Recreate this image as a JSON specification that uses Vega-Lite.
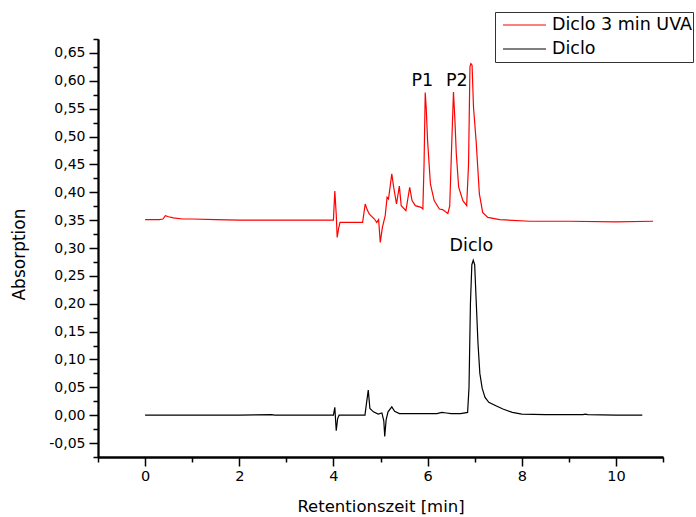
{
  "$schema": "https://vega.github.io/schema/vega-lite/v6.json",
  "width": 565,
  "height": 418,
  "autosize": {"type": "none"},
  "padding": {"left": 98, "top": 39, "right": 33, "bottom": 60},
  "background": "white",
  "config": {
    "view": {"stroke": null},
    "font": "DejaVu Sans",
    "axis": {
      "grid": false,
      "domainColor": "black",
      "domainWidth": 1.8,
      "tickColor": "black",
      "tickWidth": 1.5,
      "labelColor": "black",
      "titleColor": "black",
      "titleFontWeight": "normal",
      "labelFont": "DejaVu Sans",
      "titleFont": "DejaVu Sans",
      "labelOverlap": false,
      "labelFlush": false,
      "labelBound": false
    }
  },
  "resolve": {"axis": {"x": "independent", "y": "independent"}},
  "datasets": {
    "curves": [
      {"t": 0, "a": 0.351, "s": "Diclo 3 min UVA"},
      {"t": 0.3, "a": 0.351, "s": "Diclo 3 min UVA"},
      {"t": 0.38, "a": 0.352, "s": "Diclo 3 min UVA"},
      {"t": 0.43, "a": 0.358, "s": "Diclo 3 min UVA"},
      {"t": 0.5, "a": 0.356, "s": "Diclo 3 min UVA"},
      {"t": 0.6, "a": 0.354, "s": "Diclo 3 min UVA"},
      {"t": 0.8, "a": 0.352, "s": "Diclo 3 min UVA"},
      {"t": 1.0, "a": 0.352, "s": "Diclo 3 min UVA"},
      {"t": 1.5, "a": 0.351, "s": "Diclo 3 min UVA"},
      {"t": 2.0, "a": 0.35, "s": "Diclo 3 min UVA"},
      {"t": 3.0, "a": 0.35, "s": "Diclo 3 min UVA"},
      {"t": 4.0, "a": 0.35, "s": "Diclo 3 min UVA"},
      {"t": 4.03, "a": 0.402, "s": "Diclo 3 min UVA"},
      {"t": 4.06, "a": 0.36, "s": "Diclo 3 min UVA"},
      {"t": 4.08, "a": 0.319, "s": "Diclo 3 min UVA"},
      {"t": 4.11, "a": 0.335, "s": "Diclo 3 min UVA"},
      {"t": 4.14, "a": 0.346, "s": "Diclo 3 min UVA"},
      {"t": 4.62, "a": 0.346, "s": "Diclo 3 min UVA"},
      {"t": 4.675, "a": 0.379, "s": "Diclo 3 min UVA"},
      {"t": 4.72, "a": 0.368, "s": "Diclo 3 min UVA"},
      {"t": 4.76, "a": 0.361, "s": "Diclo 3 min UVA"},
      {"t": 4.87, "a": 0.352, "s": "Diclo 3 min UVA"},
      {"t": 4.92, "a": 0.346, "s": "Diclo 3 min UVA"},
      {"t": 4.96, "a": 0.351, "s": "Diclo 3 min UVA"},
      {"t": 4.995, "a": 0.31, "s": "Diclo 3 min UVA"},
      {"t": 5.04, "a": 0.337, "s": "Diclo 3 min UVA"},
      {"t": 5.1, "a": 0.358, "s": "Diclo 3 min UVA"},
      {"t": 5.14, "a": 0.391, "s": "Diclo 3 min UVA"},
      {"t": 5.17, "a": 0.388, "s": "Diclo 3 min UVA"},
      {"t": 5.24, "a": 0.433, "s": "Diclo 3 min UVA"},
      {"t": 5.28, "a": 0.409, "s": "Diclo 3 min UVA"},
      {"t": 5.34, "a": 0.379, "s": "Diclo 3 min UVA"},
      {"t": 5.4, "a": 0.411, "s": "Diclo 3 min UVA"},
      {"t": 5.44, "a": 0.376, "s": "Diclo 3 min UVA"},
      {"t": 5.54, "a": 0.367, "s": "Diclo 3 min UVA"},
      {"t": 5.62, "a": 0.409, "s": "Diclo 3 min UVA"},
      {"t": 5.67, "a": 0.385, "s": "Diclo 3 min UVA"},
      {"t": 5.74, "a": 0.376, "s": "Diclo 3 min UVA"},
      {"t": 5.86, "a": 0.373, "s": "Diclo 3 min UVA"},
      {"t": 5.9, "a": 0.37, "s": "Diclo 3 min UVA"},
      {"t": 5.925, "a": 0.45, "s": "Diclo 3 min UVA"},
      {"t": 5.95, "a": 0.579, "s": "Diclo 3 min UVA"},
      {"t": 5.97, "a": 0.553, "s": "Diclo 3 min UVA"},
      {"t": 6.0, "a": 0.493, "s": "Diclo 3 min UVA"},
      {"t": 6.06, "a": 0.415, "s": "Diclo 3 min UVA"},
      {"t": 6.14, "a": 0.385, "s": "Diclo 3 min UVA"},
      {"t": 6.25, "a": 0.37, "s": "Diclo 3 min UVA"},
      {"t": 6.32, "a": 0.369, "s": "Diclo 3 min UVA"},
      {"t": 6.43, "a": 0.362, "s": "Diclo 3 min UVA"},
      {"t": 6.47, "a": 0.375, "s": "Diclo 3 min UVA"},
      {"t": 6.51, "a": 0.48, "s": "Diclo 3 min UVA"},
      {"t": 6.55, "a": 0.58, "s": "Diclo 3 min UVA"},
      {"t": 6.58, "a": 0.53, "s": "Diclo 3 min UVA"},
      {"t": 6.61, "a": 0.469, "s": "Diclo 3 min UVA"},
      {"t": 6.66, "a": 0.409, "s": "Diclo 3 min UVA"},
      {"t": 6.75, "a": 0.385, "s": "Diclo 3 min UVA"},
      {"t": 6.83, "a": 0.376, "s": "Diclo 3 min UVA"},
      {"t": 6.87, "a": 0.45, "s": "Diclo 3 min UVA"},
      {"t": 6.9, "a": 0.625, "s": "Diclo 3 min UVA"},
      {"t": 6.92, "a": 0.631, "s": "Diclo 3 min UVA"},
      {"t": 6.945, "a": 0.628, "s": "Diclo 3 min UVA"},
      {"t": 6.975, "a": 0.553, "s": "Diclo 3 min UVA"},
      {"t": 7.03, "a": 0.493, "s": "Diclo 3 min UVA"},
      {"t": 7.1, "a": 0.397, "s": "Diclo 3 min UVA"},
      {"t": 7.17, "a": 0.364, "s": "Diclo 3 min UVA"},
      {"t": 7.28, "a": 0.355, "s": "Diclo 3 min UVA"},
      {"t": 7.53, "a": 0.351, "s": "Diclo 3 min UVA"},
      {"t": 8.17, "a": 0.348, "s": "Diclo 3 min UVA"},
      {"t": 9.0, "a": 0.348, "s": "Diclo 3 min UVA"},
      {"t": 10.0, "a": 0.347, "s": "Diclo 3 min UVA"},
      {"t": 10.79, "a": 0.348, "s": "Diclo 3 min UVA"},

      {"t": 0, "a": 0, "s": "Diclo"},
      {"t": 1, "a": 0, "s": "Diclo"},
      {"t": 2, "a": 0, "s": "Diclo"},
      {"t": 2.69, "a": 0.001, "s": "Diclo"},
      {"t": 2.75, "a": 0, "s": "Diclo"},
      {"t": 3.5, "a": 0, "s": "Diclo"},
      {"t": 4.0, "a": 0, "s": "Diclo"},
      {"t": 4.03, "a": 0.014, "s": "Diclo"},
      {"t": 4.06, "a": -0.028, "s": "Diclo"},
      {"t": 4.09, "a": -0.006, "s": "Diclo"},
      {"t": 4.12, "a": 0, "s": "Diclo"},
      {"t": 4.67, "a": 0, "s": "Diclo"},
      {"t": 4.7, "a": 0.02, "s": "Diclo"},
      {"t": 4.74, "a": 0.045, "s": "Diclo"},
      {"t": 4.775, "a": 0.012, "s": "Diclo"},
      {"t": 4.85, "a": 0.006, "s": "Diclo"},
      {"t": 4.95, "a": 0.002, "s": "Diclo"},
      {"t": 5.03, "a": 0.004, "s": "Diclo"},
      {"t": 5.07, "a": -0.01, "s": "Diclo"},
      {"t": 5.09, "a": -0.038, "s": "Diclo"},
      {"t": 5.12, "a": -0.008, "s": "Diclo"},
      {"t": 5.16, "a": 0.006, "s": "Diclo"},
      {"t": 5.24, "a": 0.015, "s": "Diclo"},
      {"t": 5.3, "a": 0.007, "s": "Diclo"},
      {"t": 5.4, "a": 0.003, "s": "Diclo"},
      {"t": 5.8, "a": 0.003, "s": "Diclo"},
      {"t": 6.2, "a": 0.003, "s": "Diclo"},
      {"t": 6.3, "a": 0.005, "s": "Diclo"},
      {"t": 6.4, "a": 0.004, "s": "Diclo"},
      {"t": 6.5, "a": 0.003, "s": "Diclo"},
      {"t": 6.7, "a": 0.003, "s": "Diclo"},
      {"t": 6.85, "a": 0.005, "s": "Diclo"},
      {"t": 6.88, "a": 0.05, "s": "Diclo"},
      {"t": 6.91, "a": 0.2, "s": "Diclo"},
      {"t": 6.94, "a": 0.27, "s": "Diclo"},
      {"t": 6.97, "a": 0.278, "s": "Diclo"},
      {"t": 7.0, "a": 0.27, "s": "Diclo"},
      {"t": 7.03, "a": 0.21, "s": "Diclo"},
      {"t": 7.07, "a": 0.13, "s": "Diclo"},
      {"t": 7.11, "a": 0.075, "s": "Diclo"},
      {"t": 7.16, "a": 0.048, "s": "Diclo"},
      {"t": 7.22, "a": 0.032, "s": "Diclo"},
      {"t": 7.3, "a": 0.023, "s": "Diclo"},
      {"t": 7.45, "a": 0.017, "s": "Diclo"},
      {"t": 7.6, "a": 0.011, "s": "Diclo"},
      {"t": 7.8, "a": 0.005, "s": "Diclo"},
      {"t": 8.0, "a": 0.002, "s": "Diclo"},
      {"t": 8.5, "a": 0.001, "s": "Diclo"},
      {"t": 9.3, "a": 0.001, "s": "Diclo"},
      {"t": 9.35, "a": 0.002, "s": "Diclo"},
      {"t": 9.4, "a": 0.001, "s": "Diclo"},
      {"t": 10.0, "a": 0, "s": "Diclo"},
      {"t": 10.56, "a": 0, "s": "Diclo"}
    ],
    "labels": [
      {"t": 5.89, "a": 0.6, "label": "P1"},
      {"t": 6.62, "a": 0.6, "label": "P2"},
      {"t": 6.93, "a": 0.303, "label": "Diclo"}
    ]
  },
  "layer": [
    {
      "data": {"name": "curves"},
      "mark": {"type": "line", "strokeWidth": 1.2, "clip": false},
      "encoding": {
        "x": {
          "field": "t",
          "type": "quantitative",
          "scale": {"domain": [-1, 11], "nice": false, "zero": false},
          "axis": {
            "orient": "bottom",
            "title": "Retentionszeit [min]",
            "titleFontSize": 16.5,
            "labelFontSize": 14.5,
            "values": [0, 2, 4, 6, 8, 10],
            "tickSize": 9,
            "labelPadding": 3,
            "titlePadding": 16
          }
        },
        "y": {
          "field": "a",
          "type": "quantitative",
          "scale": {"domain": [-0.075, 0.675], "nice": false, "zero": false},
          "axis": {
            "orient": "left",
            "title": "Absorption",
            "titleFontSize": 17,
            "titleBaseline": "alphabetic",
            "titleX": -73.5,
            "titleY": 215,
            "labelFontSize": 14,
            "values": [-0.05, 0, 0.05, 0.1, 0.15, 0.2, 0.25, 0.3, 0.35, 0.4, 0.45, 0.5, 0.55, 0.6, 0.65],
            "labelExpr": "(datum.value < -0.0001 ? '-' : '') + replace(format(abs(datum.value), '.2f'), '.', ',')",
            "tickSize": 9,
            "labelPadding": 4
          }
        },
        "color": {
          "field": "s",
          "type": "nominal",
          "scale": {"domain": ["Diclo 3 min UVA", "Diclo"], "range": ["#ff0000", "#000000"]},
          "legend": {
            "orient": "none",
            "legendX": 397,
            "legendY": -27,
            "title": null,
            "symbolType": "stroke",
            "symbolSize": 1849,
            "symbolStrokeWidth": 1.2,
            "clipHeight": 24,
            "rowPadding": 0,
            "padding": 1,
            "symbolOffset": 6,
            "labelOffset": 5,
            "labelFontSize": 17.5,
            "labelFont": "DejaVu Sans",
            "labelColor": "black",
            "labelLimit": 400,
            "strokeColor": "#333333"
          }
        }
      }
    },
    {
      "data": {"name": "labels"},
      "mark": {"type": "text", "font": "DejaVu Sans", "fontSize": 17.5, "baseline": "middle", "align": "center", "color": "black"},
      "encoding": {
        "x": {
          "field": "t",
          "type": "quantitative",
          "axis": {
            "orient": "bottom",
            "title": null,
            "labels": false,
            "values": [-1, 1, 3, 5, 7, 9, 11],
            "tickSize": 5
          }
        },
        "y": {
          "field": "a",
          "type": "quantitative",
          "axis": {
            "orient": "left",
            "title": null,
            "labels": false,
            "values": [-0.075, -0.025, 0.025, 0.075, 0.125, 0.175, 0.225, 0.275, 0.325, 0.375, 0.425, 0.475, 0.525, 0.575, 0.625, 0.675],
            "tickSize": 5
          }
        },
        "text": {"field": "label"}
      }
    }
  ]
}
